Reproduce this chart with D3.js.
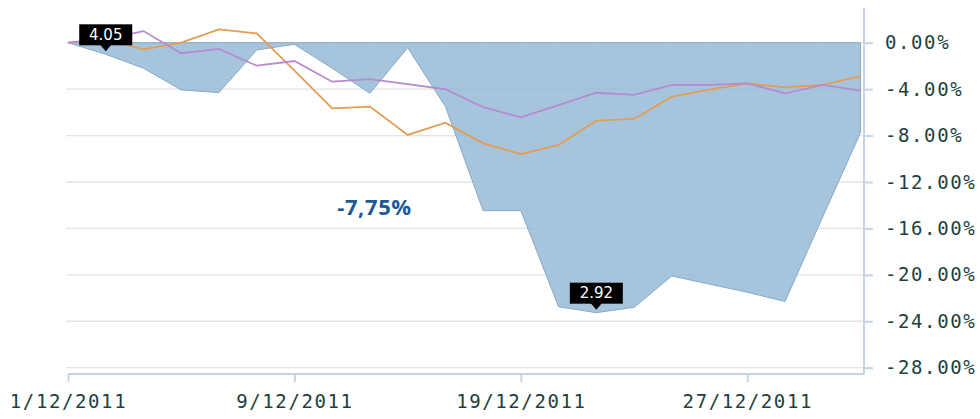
<!DOCTYPE html>
<html>
<head>
<meta charset="utf-8">
<script src="https://cdn.jsdelivr.net/npm/d3@7"></script>
<style>
  html, body { margin: 0; padding: 0; background: #fff; }
  #vis-display { width: 980px; height: 419px; }
</style>
</head>
<body>
<div id="vis-display"></div>
<script>
// Trading days, December 2011
const DATES = [
  "1/12/2011", "2/12/2011", "5/12/2011", "6/12/2011", "7/12/2011", "8/12/2011",
  "9/12/2011", "12/12/2011", "13/12/2011", "14/12/2011", "15/12/2011", "16/12/2011",
  "19/12/2011", "20/12/2011", "21/12/2011", "22/12/2011", "23/12/2011", "26/12/2011",
  "27/12/2011", "28/12/2011", "29/12/2011", "30/12/2011",
];

// % change since 1/12 (area)
const AREA_VALUES = [
  0, -1.0, -2.2, -4.07, -4.3, -0.63, -0.14, -2.2, -4.36, -0.43, -5.5,
  -14.47, -14.47, -22.75, -23.26, -22.8, -20.1, -20.8, -21.5, -22.3, -15.0, -7.75,
];

const ORANGE_VALUES = [
  0, 0.3, -0.57, 0.0, 1.15, 0.8, -2.4, -5.65, -5.51, -7.95, -6.89,
  -8.67, -9.59, -8.81, -6.72, -6.57, -4.65, -4.05, -3.5, -3.84, -3.64, -2.87,
];

const PURPLE_VALUES = [
  0, 0.3, 1.0, -0.91, -0.54, -1.98, -1.58, -3.36, -3.13, -3.56, -4.01,
  -5.56, -6.43, -5.37, -4.31, -4.5, -3.64, -3.64, -3.5, -4.36, -3.64, -4.13,
];

const X_TICKS = ["1/12/2011", "9/12/2011", "19/12/2011", "27/12/2011"];
const Y_TICKS = [0, -4, -8, -12, -16, -20, -24, -28];

// price flags: [date, label]
const FLAGS = [["2/12/2011", "4.05"], ["21/12/2011", "2.92"]];

const SUMMARY = "-7,75%";

const W = 980, H = 419;
const AXIS_COLOR = "#c6d4e4";
const TEXT_COLOR = "#213f40";
const MONO = "'DejaVu Sans Mono', 'Liberation Mono', monospace";

const svg = d3.select("#vis-display").append("svg")
  .attr("width", W)
  .attr("height", H);

const x = d3.scalePoint()
  .domain(DATES)
  .range([68, 860.5]);

const y = d3.scaleLinear()
  .domain([-28, 0])
  .range([367.7, 42.7]);

const xLeft = 66, xAxisRight = 864, yAxisBottom = 374;

// ── Grid ────────────────────────────────────────────────────────────────────

svg.append("g")
  .selectAll("line")
  .data(Y_TICKS)
  .join("line")
    .attr("x1", xLeft).attr("x2", xAxisRight)
    .attr("y1", d => y(d)).attr("y2", d => y(d))
    .attr("stroke", "#e3e3e3")
    .attr("stroke-width", 1.3);

// ── Area ────────────────────────────────────────────────────────────────────

const rows = DATES.map((d, i) => ({
  date: d, area: AREA_VALUES[i], orange: ORANGE_VALUES[i], purple: PURPLE_VALUES[i],
}));

svg.append("path")
  .datum(rows)
  .attr("d", d3.area().x(d => x(d.date)).y0(y(0)).y1(d => y(d.area)))
  .attr("fill", "#97bbd6")
  .attr("fill-opacity", 0.85)
  .attr("stroke", "#8aaac3")
  .attr("stroke-width", 1);

// ── Lines ───────────────────────────────────────────────────────────────────

svg.append("path")
  .datum(rows)
  .attr("d", d3.line().x(d => x(d.date)).y(d => y(d.orange)))
  .attr("fill", "none")
  .attr("stroke", "#e39d52")
  .attr("stroke-width", 1.8);

svg.append("path")
  .datum(rows)
  .attr("d", d3.line().x(d => x(d.date)).y(d => y(d.purple)))
  .attr("fill", "none")
  .attr("stroke", "#b58bd0")
  .attr("stroke-width", 1.8);

// ── Axes ────────────────────────────────────────────────────────────────────

const yAxis = svg.append("g")
  .attr("transform", `translate(${xAxisRight},0)`)
  .call(d3.axisRight(y)
    .tickValues(Y_TICKS)
    .tickSize(9)
    .tickPadding(12)
    .tickFormat(d => d.toFixed(2) + "%"))
  .call(ax => ax.select(".domain").remove());

yAxis.append("line")
  .attr("x1", 0).attr("x2", 0)
  .attr("y1", 8).attr("y2", yAxisBottom)
  .attr("stroke", AXIS_COLOR).attr("stroke-width", 2);

yAxis.selectAll(".tick line").attr("stroke", AXIS_COLOR).attr("stroke-width", 2);
yAxis.selectAll(".tick text")
  .attr("fill", TEXT_COLOR)
  .style("font-family", MONO)
  .style("font-size", "19px")
  .style("letter-spacing", "1.6px");

const xAxis = svg.append("g")
  .attr("transform", `translate(0,${yAxisBottom})`)
  .call(d3.axisBottom(x)
    .tickValues(X_TICKS)
    .tickSize(8)
    .tickPadding(13))
  .call(ax => ax.select(".domain").remove());

xAxis.append("line")
  .attr("x1", x(DATES[0])).attr("x2", xAxisRight)
  .attr("stroke", AXIS_COLOR).attr("stroke-width", 2);

xAxis.selectAll(".tick line").attr("stroke", AXIS_COLOR).attr("stroke-width", 2);
xAxis.selectAll(".tick text")
  .attr("fill", TEXT_COLOR)
  .style("font-family", MONO)
  .style("font-size", "19px")
  .style("letter-spacing", "1.6px");

// ── Flags ───────────────────────────────────────────────────────────────────

FLAGS.forEach(([date, label]) => {
  const i = DATES.indexOf(date);
  const px = x(date);
  const tip = y(AREA_VALUES[i]) - 3;
  const bw = 53, bh = 21;
  const f = svg.append("g");
  f.append("rect")
    .attr("x", px - bw / 2).attr("y", tip - 6 - bh)
    .attr("width", bw).attr("height", bh)
    .attr("fill", "#000");
  f.append("path")
    .attr("d", `M${px - 6},${tip - 7} L${px + 6},${tip - 7} L${px},${tip} Z`)
    .attr("fill", "#000");
  f.append("text")
    .attr("x", px).attr("y", tip - 6 - bh / 2 + 5)
    .attr("text-anchor", "middle")
    .attr("fill", "#fff")
    .style("font-family", "'DejaVu Sans', Verdana, sans-serif")
    .style("font-size", "15px")
    .text(label);
});

// ── Summary value ───────────────────────────────────────────────────────────

svg.append("text")
  .attr("x", 374.5).attr("y", 215)
  .attr("text-anchor", "middle")
  .attr("fill", "#1d5b98")
  .style("font-family", "'Open Sans', sans-serif")
  .style("font-weight", "bold")
  .style("font-size", "22px")
  .style("letter-spacing", "0.6px")
  .text(SUMMARY);
</script>
</body>
</html>
